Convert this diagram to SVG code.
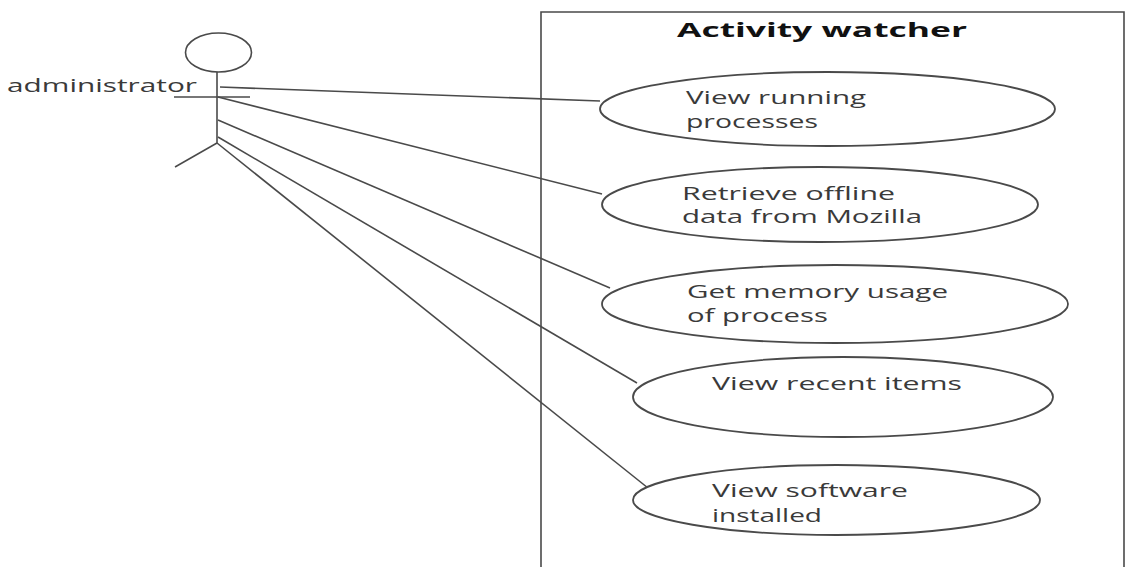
<svg xmlns="http://www.w3.org/2000/svg" width="1131" height="567" viewBox="0 0 1131 567">
  <style>
    .stroke { fill: none; stroke: #4a4a4a; stroke-width: 1.6; }
    .uc { fill: #ffffff; stroke: #4a4a4a; stroke-width: 1.8; }
    .lbl { font-family: "Open Sans", "Liberation Sans", sans-serif; font-size: 18px; fill: #3a3a3a; }
    .title { font-family: "Open Sans", "Liberation Sans", sans-serif; font-size: 19px; font-weight: bold; fill: #111111; }
  </style>
  <rect width="1131" height="567" fill="#ffffff"/>

  <!-- system boundary (open at the bottom) -->
  <g id="system">
    <path class="stroke" d="M541,567 V12 H1124 V567"/>
    <text class="title" x="677" y="37" textLength="290" lengthAdjust="spacingAndGlyphs">Activity watcher</text>
  </g>

  <!-- actor; the right leg is shared with the lowest association line -->
  <g id="administrator">
    <ellipse class="stroke" cx="218.5" cy="52.5" rx="33" ry="19.5"/>
    <line class="stroke" x1="217" y1="72" x2="217" y2="143"/>
    <line class="stroke" x1="174" y1="97" x2="250" y2="97"/>
    <line class="stroke" x1="217" y1="143" x2="175" y2="167"/>
    <text class="lbl" x="7" y="92" textLength="190" lengthAdjust="spacingAndGlyphs">administrator</text>
  </g>

  <!-- associations -->
  <g id="connectors">
    <line class="stroke" x1="220" y1="87" x2="600" y2="101"/>
    <line class="stroke" x1="218" y1="97" x2="602" y2="194"/>
    <line class="stroke" x1="218" y1="120" x2="610" y2="288"/>
    <line class="stroke" x1="218" y1="137" x2="637" y2="383"/>
    <line class="stroke" x1="217" y1="143" x2="648" y2="488"/>
  </g>

  <!-- use cases -->
  <g id="uc-running">
    <ellipse class="uc" cx="827.5" cy="109" rx="227.5" ry="37"/>
    <text class="lbl" x="686" y="104" textLength="180" lengthAdjust="spacingAndGlyphs">View running</text>
    <text class="lbl" x="686" y="128" textLength="132" lengthAdjust="spacingAndGlyphs">processes</text>
  </g>
  <g id="uc-offline">
    <ellipse class="uc" cx="820" cy="204.5" rx="218" ry="37.5"/>
    <text class="lbl" x="682" y="200" textLength="213" lengthAdjust="spacingAndGlyphs">Retrieve offline</text>
    <text class="lbl" x="682" y="223" textLength="240" lengthAdjust="spacingAndGlyphs">data from Mozilla</text>
  </g>
  <g id="uc-memory">
    <ellipse class="uc" cx="835" cy="304" rx="233" ry="39"/>
    <text class="lbl" x="687" y="298" textLength="261" lengthAdjust="spacingAndGlyphs">Get memory usage</text>
    <text class="lbl" x="687" y="322" textLength="141" lengthAdjust="spacingAndGlyphs">of process</text>
  </g>
  <g id="uc-recent">
    <ellipse class="uc" cx="843" cy="397" rx="210" ry="40"/>
    <text class="lbl" x="712" y="390" textLength="250" lengthAdjust="spacingAndGlyphs">View recent items</text>
  </g>
  <g id="uc-software">
    <ellipse class="uc" cx="836.5" cy="500" rx="203.5" ry="35"/>
    <text class="lbl" x="712" y="497" textLength="196" lengthAdjust="spacingAndGlyphs">View software</text>
    <text class="lbl" x="712" y="522" textLength="110" lengthAdjust="spacingAndGlyphs">installed</text>
  </g>
</svg>
